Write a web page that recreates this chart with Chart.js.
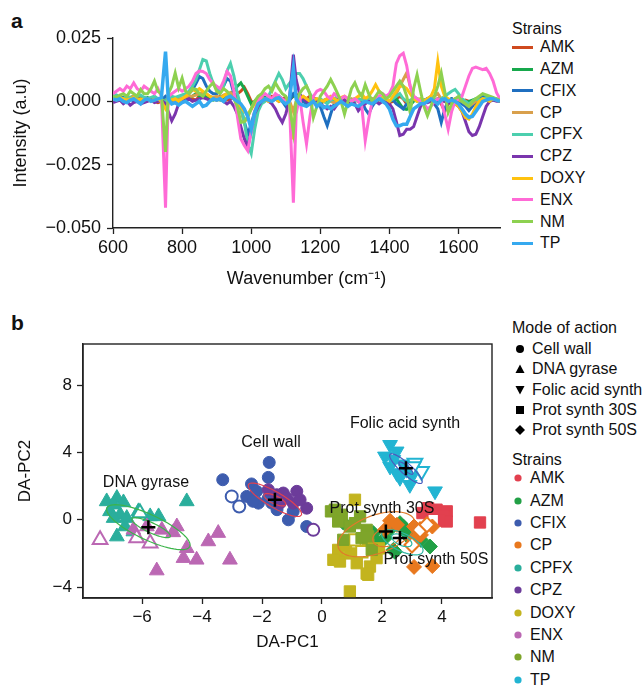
<!DOCTYPE html>
<html>
<head>
<meta charset="utf-8">
<script src="https://cdn.jsdelivr.net/npm/chart.js@4.4.0/dist/chart.umd.min.js"></script>
<style>
  body { margin: 0; background: #fff; font-family: Arial, "Liberation Sans", Helvetica, sans-serif; color: #111; }
  #page { position: relative; width: 644px; height: 687px; overflow: hidden; }
  .panel-label { position: absolute; font-weight: bold; font-size: 21px; line-height: 21px; }
  #chartA { position: absolute; left: 0; top: 0; }
  #chartB { position: absolute; left: 0; top: 300px; }
  .legend { position: absolute; left: 512px; font-size: 16px; }
  .legend .ttl { position: absolute; left: 0; white-space: nowrap; height: 16px; line-height: 16px; }
  .legend .rows { position: absolute; left: 0; }
  .legend .row { white-space: nowrap; display: flex; align-items: center; }
  .swatch { display: inline-block; width: 21px; height: 3px; margin-right: 7px; }
  .mk { display: inline-block; width: 16px; height: 12px; margin-right: 4px; }
  .dot { display: inline-block; width: 12px; height: 10px; margin-right: 6px; }
</style>
</head>
<body>
<div id="page">
  <div class="panel-label" style="left:11px; top:10px;">a</div>
  <div class="panel-label" style="left:11px; top:312px;">b</div>
  <canvas id="chartA" width="510" height="300"></canvas>
  <canvas id="chartB" width="510" height="387"></canvas>
  <div class="legend" id="legendA"></div>
  <div class="legend" id="legendB"></div>
</div>
<script>
// ---------- panel a: spectra ----------
const strainNames = ['AMK', 'AZM', 'CFIX', 'CP', 'CPFX', 'CPZ', 'DOXY', 'ENX', 'NM', 'TP'];
const lineColors = ['#cf4a1f', '#17a84c', '#1f6fc0', '#d9a04c', '#4ccfae', '#7a35ad', '#ffc20f', '#ff6ad6', '#8dd150', '#35a9ef'];

const wavenumbers = [
  600, 610, 620, 630, 640, 650, 660, 670, 680, 690,
  700, 710, 720, 730, 740, 752, 760, 770, 780, 790,
  800, 810, 820, 830, 840, 850, 860, 870, 880, 890,
  900, 910, 920, 930, 940, 950, 960, 970, 980, 990,
  1000, 1010, 1020, 1030, 1040, 1050, 1060, 1070, 1080, 1090,
  1100, 1110, 1122, 1130, 1140, 1150, 1160, 1170, 1180, 1190,
  1200, 1210, 1220, 1230, 1240, 1250, 1260, 1270, 1280, 1290,
  1300, 1310, 1320, 1330, 1340, 1350, 1360, 1370, 1380, 1390,
  1400, 1410, 1420, 1430, 1440, 1450, 1460, 1470, 1480, 1490,
  1500, 1510, 1520, 1530, 1540, 1550, 1560, 1570, 1580, 1590,
  1600, 1610, 1620, 1630, 1640, 1650, 1660, 1670, 1680, 1690,
  1700, 1710, 1720
];

const amkSpec = [
  0.0015, 0.002, 0.001, 0.0005, 0.0015, 0.001, 0.0005, 0.0015, 0.002, 0.001,
  0.0005, 0.001, 0, -0.0005, 0, -0.001, 0.0005, 0.001, 0, 0.0005,
  0.001, 0.0015, 0.002, 0.001, 0.0005, 0.002, 0.003, 0.002, 0.001, 0.0015,
  0.001, 0.002, 0.0015, 0.0005, 0.001, 0.002, 0.003, 0.004, 0.0055, 0.003,
  0, -0.001, 0.001, 0.002, 0.0005, 0.001, 0.002, 0.001, 0, 0.001,
  0.0015, 0.0005, 0.002, 0.003, 0.001, 0, 0.001, 0.002, 0.0015, 0.0005,
  -0.001, 0, 0.001, 0.0005, 0, 0.001, -0.0005, 0, 0.001, 0.0005,
  0, 0.001, -0.0005, 0, 0.0015, 0.001, 0, 0.0005, 0.001, 0,
  -0.0005, 0, 0.001, 0.002, 0.001, -0.001, 0, 0.001, 0.0005, 0,
  0.0005, 0.001, 0, 0.0005, 0.001, -0.001, -0.004, -0.001, 0.0005, 0,
  -0.0005, 0, 0.0005, 0, -0.0005, -0.001, 0, 0.0005, 0.001, 0.0005,
  0.001, 0.0005, 0
];
const azmSpec = [
  0.001, 0.0015, 0.002, 0.001, 0.0005, 0.0015, 0.002, 0.001, 0.0005, 0.001,
  0.0015, 0.001, 0.0005, 0.001, 0, 0.0005, 0.001, 0, 0.0005, 0.001,
  0.0005, 0.001, 0.0015, 0.002, 0.003, 0.002, 0.0015, 0.002, 0.001, 0.0005,
  0.001, 0.0005, 0.0015, 0.002, 0.003, 0.004, 0.006, 0.0073, 0.005, 0.002,
  -0.001, 0, 0.001, 0.002, 0.0015, 0.001, 0.0005, 0.001, 0.002, 0.001,
  0, 0.001, 0.002, 0.0025, 0.0015, 0.0005, 0, 0.001, 0.0005, 0,
  -0.0005, 0, 0.0005, 0.001, 0, -0.0005, 0.0005, 0.001, 0, 0.0005,
  0.001, 0, -0.0005, 0.0005, 0.001, 0, 0.0005, 0.001, 0.0005, 0,
  0, 0.0005, 0.001, -0.001, -0.003, -0.0032, -0.0015, 0, 0.001, 0.0005,
  0, 0.001, 0.0005, 0, 0.001, 0.0005, 0, 0.0005, 0.001, 0,
  0.0005, 0, -0.0005, 0, 0.0005, 0.001, 0.0005, 0, 0.001, 0.0015,
  0.001, 0.0005, 0
];
const cfixSpec = [
  0.001, 0.0005, 0.001, 0.0015, 0.0005, 0.001, 0, 0.0005, 0.001, 0.0015,
  0.001, 0.0005, 0.001, 0, 0.0005, 0.002, 0.001, 0, -0.0005, 0.0005,
  0.001, 0.002, 0.003, 0.0045, 0.007, 0.0098, 0.009, 0.006, 0.004, 0.003,
  0.003, 0.004, 0.006, 0.009, 0.008, 0.003, 0, -0.003, -0.008, -0.013,
  -0.009, -0.004, -0.001, 0, 0.001, 0.0005, 0, 0.001, 0.002, 0,
  -0.002, 0, 0.003, 0.002, 0.001, 0, -0.001, 0, 0.001, 0,
  -0.002, -0.006, -0.0096, -0.005, -0.001, 0, 0.001, 0, -0.001, 0,
  0, 0.001, 0, -0.003, -0.005, -0.002, 0, 0.001, 0.0005, 0,
  0, 0.0005, -0.001, -0.002, -0.003, -0.001, 0, 0.001, 0, 0.0005,
  0, 0.001, 0.0005, -0.001, -0.003, -0.0083, -0.003, 0, 0.001, 0.0005,
  0, -0.001, -0.002, -0.0037, -0.002, 0, 0.001, 0.002, 0.002, 0.0015,
  0.001, 0.0005, 0
];
const cpSpec = [
  0.001, 0.0015, 0.001, 0.0005, 0.001, 0.0015, 0.002, 0.001, 0.0005, 0.001,
  0.001, 0.0005, 0.001, 0, 0.0005, 0, 0.0005, 0.001, 0, 0.001,
  0.001, 0.0015, 0.002, 0.002, 0.0025, 0.003, 0.0035, 0.003, 0.002, 0.0015,
  0.002, 0.0015, 0.0025, 0.003, 0.0035, 0.002, 0, -0.003, -0.0083, -0.006,
  -0.003, 0, 0.001, 0.0015, 0.001, 0.0005, 0.001, 0.002, 0.001, 0.0005,
  0, 0.0005, -0.004, 0, 0.001, 0.002, 0.001, 0, 0.0005, 0.001,
  0, 0.0005, 0.001, 0, -0.0005, 0, 0.001, 0.0005, 0, 0.001,
  0.0005, 0, 0.001, 0.0005, -0.0005, 0, 0.001, 0.0015, 0.002, 0.001,
  0, 0.001, 0.003, 0.006, 0.0086, 0.0112, 0.006, 0.002, 0.001, 0,
  -0.0005, 0, 0.001, 0.002, 0.003, 0.001, 0, 0.0005, 0, 0.001,
  0.0005, 0, -0.001, -0.002, -0.001, 0, 0.0005, 0.001, 0.0005, 0,
  0.001, 0.0005, 0
];
const cpfxSpec = [
  0.002, 0.0025, 0.0015, 0.001, 0.002, 0.0015, 0.001, 0.002, 0.0025, 0.0015,
  0.001, 0.0015, 0.002, 0.001, 0.0005, 0, 0.001, 0.002, 0.0015, 0.002,
  0.0025, 0.003, 0.004, 0.006, 0.0086, 0.0125, 0.0165, 0.016, 0.011, 0.007,
  0.005, 0.004, 0.006, 0.012, 0.015, 0.01, 0.003, -0.002, -0.008, -0.017,
  -0.0206, -0.011, -0.004, -0.001, 0, 0.002, 0.005, 0.008, 0.011, 0.0086,
  0.005, 0.007, 0.009, 0.011, 0.011, 0.009, 0.006, 0.003, 0.001, 0,
  0.001, 0, -0.001, 0.0005, 0.001, 0.002, 0.001, 0, 0.001, 0.0005,
  0, 0.001, 0.0005, 0, 0.001, 0.0005, 0.001, 0.002, 0.001, 0.0005,
  0, 0.001, 0.002, 0.003, 0.001, 0, 0.0005, 0.001, 0, 0.001,
  0.0005, 0.001, 0.002, 0.001, 0, 0.001, 0.002, 0.003, 0.004, 0.0047,
  0.003, 0.001, 0, -0.001, 0, 0.001, 0.0005, 0.001, 0.0015, 0.001,
  0.0005, 0.001, 0
];
const cpzSpec = [
  -0.0005, 0, 0.0005, -0.001, 0, -0.0015, -0.0005, 0, -0.001, -0.0005,
  0, 0.0005, -0.0005, 0, 0.0005, -0.001, -0.004, -0.0077, -0.005, -0.001,
  0, 0.0005, 0.001, 0, 0.0005, 0.001, 0.0015, 0.001, 0.0005, 0.001,
  0.0005, 0.001, 0, -0.001, 0, -0.002, -0.005, -0.01, -0.0148, -0.018,
  -0.012, -0.005, -0.002, 0, 0.001, 0, -0.001, -0.003, -0.006, -0.0083,
  -0.005, 0, 0.0184, 0.0086, 0.003, 0.001, 0, -0.001, 0, 0.0005,
  -0.001, -0.002, -0.003, -0.002, -0.003, -0.001, 0, 0.0005, -0.001, 0,
  -0.001, -0.0037, -0.002, -0.001, 0, -0.0005, 0, -0.001, 0, -0.0005,
  -0.001, -0.003, -0.008, -0.0135, -0.013, -0.011, -0.011, -0.01, -0.006, -0.002,
  0, -0.0005, 0, -0.001, 0, 0.0005, 0, -0.001, 0, -0.001,
  -0.002, -0.004, -0.008, -0.012, -0.0135, -0.013, -0.01, -0.006, -0.002, 0,
  0.0005, 0, 0
];
const doxySpec = [
  0.001, 0.0005, 0.0015, 0.001, 0.0005, 0.001, 0.0015, 0.0005, 0.001, 0.0005,
  0.001, 0, 0.0005, 0.001, 0, -0.003, -0.001, 0.0005, 0.001, 0,
  0.001, 0.002, 0.003, 0.0047, 0.004, 0.005, 0.004, 0.003, 0.002, 0.001,
  0.0005, 0.001, 0.002, 0.003, 0.002, 0.001, 0, -0.002, -0.004, -0.005,
  -0.003, -0.001, 0, 0.0005, 0.001, 0, 0.0005, 0.001, 0, 0.0005,
  0, 0.001, -0.015, -0.002, 0.001, 0.002, 0.001, 0, 0.0005, 0.001,
  0.0005, 0, 0.001, 0.002, 0.001, 0, 0.0015, 0.002, 0.001, 0,
  0.001, 0.002, 0.003, 0.001, 0.002, 0.004, 0.0066, 0.004, 0.002, 0.001,
  0, 0.002, 0.004, 0.006, 0.006, 0.005, 0.003, 0.001, 0, 0.001,
  0, 0.001, 0.002, 0.005, 0.0157, 0.006, 0.002, 0.001, 0, -0.001,
  -0.002, -0.004, -0.0064, -0.007, -0.005, -0.002, 0, 0.001, 0.0005, 0,
  0.001, 0.0005, 0
];
const enxSpec = [
  0.003, 0.004, 0.005, 0.004, 0.006, 0.005, 0.0073, 0.005, 0.004, 0.006,
  0.005, 0.004, 0.003, 0.005, 0.002, -0.042, 0.002, 0.003, 0.004, 0.005,
  0.004, 0.005, 0.006, 0.008, 0.011, 0.012, 0.0118, 0.011, 0.0086, 0.007,
  0.006, 0.005, 0.008, 0.0118, 0.01, 0.004, -0.006, -0.0148, -0.0174, -0.0195,
  -0.012, -0.004, 0, 0.002, 0.003, 0.002, 0.001, 0.003, 0.002, 0.001,
  0, 0.001, -0.04, -0.005, 0.002, -0.008, -0.0168, -0.006, 0.002, 0.004,
  0.0047, 0.004, 0.002, 0.001, 0.003, 0.002, 0.001, 0.002, 0.001, 0,
  0.001, 0, -0.002, -0.0155, -0.007, 0, 0.001, 0.002, 0.003, 0.002,
  0.003, 0.006, 0.015, 0.018, 0.019, 0.014, 0.006, 0.002, 0.001, 0,
  -0.001, -0.003, -0.002, 0, 0.001, 0, -0.005, -0.011, -0.004, 0,
  0.001, 0.002, 0.006, 0.01, 0.013, 0.0135, 0.013, 0.0125, 0.013, 0.011,
  0.008, 0.0034, 0.001
];
const nmSpec = [
  0.002, 0.0015, 0.0025, 0.003, 0.002, 0.004, 0.003, 0.002, 0.0047, 0.003,
  0.003, 0.005, 0.008, 0.004, 0.003, -0.02, 0.003, 0.006, 0.0112, 0.0053,
  0.0092, 0.004, 0.003, 0.005, 0.0047, 0.003, 0.002, 0.004, 0.006, 0.0073,
  0.004, 0.003, 0.005, 0.004, 0.002, 0.001, -0.002, -0.0083, -0.008, -0.006,
  -0.003, 0, 0.002, 0.003, 0.005, 0.006, 0.004, 0.0073, 0.005, 0.003,
  0.002, -0.001, -0.012, 0, 0.003, 0.005, 0.006, 0.003, -0.0063, -0.002,
  0.002, 0.004, 0.006, 0.0086, 0.006, 0.003, 0, -0.005, 0, 0.005,
  0.0073, 0.004, 0.002, 0.0066, 0.003, 0, 0.002, 0.004, 0.003, 0.001,
  0.002, 0.004, 0.006, 0.008, 0.006, 0.002, -0.0044, 0.005, 0.0105, 0.004,
  -0.002, -0.0057, -0.002, 0.002, 0.006, 0.0112, 0.004, -0.0044, -0.001, 0.001,
  0.002, 0, -0.001, -0.002, 0, 0.001, 0.002, 0.003, 0.0025, 0.002,
  0.0015, 0.001, 0.0005
];
const tpSpec = [
  0.001, 0.0005, 0.001, 0, -0.0005, 0.0005, 0.001, 0, -0.001, 0.0005,
  0.001, 0, 0.0005, 0.001, 0.0015, 0.0196, 0.001, -0.001, -0.0005, -0.0015,
  -0.0005, 0, -0.001, -0.002, -0.001, 0, -0.002, -0.0015, 0, 0.001,
  0.0005, 0.001, 0, 0.0015, 0.002, 0.001, 0, -0.001, -0.003, -0.006,
  -0.011, -0.0044, -0.001, 0, 0.001, 0.0005, 0, 0.001, 0.0015, 0,
  -0.001, 0, 0.013, 0.001, -0.001, -0.0015, -0.002, -0.001, 0, -0.002,
  -0.001, -0.0025, -0.002, -0.003, -0.002, -0.001, 0, -0.001, -0.002, -0.001,
  -0.0015, -0.002, -0.001, 0, -0.0005, -0.001, 0, 0.001, 0, -0.001,
  -0.003, -0.007, -0.0096, -0.0096, -0.009, -0.009, -0.006, -0.003, -0.002, -0.001,
  -0.001, 0, 0.001, 0, -0.001, 0.0005, 0.001, 0, 0.0005, 0,
  -0.001, -0.003, -0.005, -0.0063, -0.006, -0.004, -0.002, 0, 0.0005, 0.001,
  0.001, 0.0005, 0
];
const spectra = [amkSpec, azmSpec, cfixSpec, cpSpec, cpfxSpec, cpzSpec, doxySpec, enxSpec, nmSpec, tpSpec];
const intensityTicks = [-0.05, -0.025, 0, 0.025];

// ---------- panel b: discriminant analysis ----------
const modeNames = ['Cell wall', 'DNA gyrase', 'Folic acid synth', 'Prot synth 30S', 'Prot synth 50S'];
const pointColors = ['#e2404f', '#22a046', '#3d5cae', '#e8781e', '#2aae9c', '#6c3c9a', '#c3b41f', '#bb68b3', '#7ea52a', '#22b4d2'];

const amkFilled = [[3.54, 0.69], [3.82, 0.6], [4.16, 0.5], [4.05, 0.2], [4.16, -0.1], [3.6, 0.2], [5.27, -0.16], [3.9, -0.05], [3.35, 0.4]];
const amkOpen = [[3.71, 0.0]];
const azmFilled = [[0.71, -0.16], [2.6, -0.2], [2.82, -0.79], [2.38, -1.79], [3.6, -1.59], [1.71, -0.79], [2.1, -1.09], [2.93, -1.1], [2.43, -1.9], [2.71, -0.4], [1.82, -1.29], [3.3, -1.2], [2.3, -0.5]];
const cfixFilled = [[-3.31, 2.38], [-1.76, 3.41], [-1.79, 2.52], [-2.35, 2.13], [-2.51, 1.39], [-2.18, 1.69], [-2.12, 0.99], [-1.79, 1.29], [-0.96, 0.5], [-1.12, 0.0], [-0.51, -0.4], [-1.68, 1.0], [-2.3, 1.1], [-1.5, 0.6]];
const cfixOpen = [[-3.01, 1.39], [-2.76, 0.79]];
const cpFilled = [[2.27, -0.06], [2.1, -0.6], [3.07, -0.4], [3.68, -0.4], [3.07, -1.19], [3.68, -2.75], [3.07, -2.8], [2.5, -0.3], [3.3, -0.9]];
const cpOpen = [[3.27, -0.6], [3.0, -1.5], [3.5, -0.3]];
const cpfxFilled = [[-7.18, 1.09], [-6.84, 1.29], [-6.62, 1.03], [-7.07, 0.5], [-6.73, 0.3], [-6.95, 0.1], [-6.12, 0.5], [-5.73, 0.2], [-5.45, 0.2], [-6.57, -0.4], [-6.84, -1.0], [-6.29, -0.7], [-4.51, 1.09], [-6.51, 0.1], [-6.95, 0.9]];
const cpfxOpen = [[-6.07, 0.4]];
const cpzFilled = [[-1.79, 1.79], [-1.29, 1.59], [-0.84, 1.69], [-1.4, 0.99], [-0.96, 0.99], [-0.51, 0.69], [-1.18, 1.29], [-1.51, 1.49], [-0.73, 1.19]];
const cpzOpen = [[-0.29, -0.6]];
const doxyFilled = [[1.1, 1.19], [0.6, -2.48], [0.93, -2.0], [1.16, -2.58], [1.6, -2.78], [1.54, -3.27], [0.93, -4.26], [0.54, -1.79], [1.82, -2.28], [1.54, -1.49], [0.38, -2.38], [1.49, -3.2], [1.9, -1.7], [0.8, -1.5]];
const doxyOpen = [[1.1, -1.19], [1.33, -1.9]];
const enxFilled = [[-5.34, -0.6], [-4.84, -0.4], [-4.96, -0.75], [-4.51, -1.69], [-4.62, -2.28], [-4.18, -2.38], [-3.79, -1.29], [-3.46, -0.79], [-3.07, -2.38], [-5.51, -3.02], [-5.84, -0.4], [-6.29, -0.6]];
const enxOpen = [[-7.4, -1.19], [-6.18, -1.09], [-5.73, -1.39]];
const nmFilled = [[0.43, 0.6], [0.66, 0.3], [1.27, 0.2], [0.93, -0.4], [1.49, -0.6], [0.71, -1.19], [1.66, -1.79], [1.32, -1.09], [0.54, -0.1], [1.1, -0.2], [1.54, -0.99], [0.3, 0.5]];
const tpFilled = [[2.27, 4.46], [2.49, 4.07], [2.1, 3.77], [2.38, 3.57], [2.49, 2.78], [2.93, 2.08], [3.77, 1.7], [2.82, 2.98], [2.27, 3.17], [2.7, 3.3], [3.0, 2.6], [2.6, 2.5]];
const tpOpen = [[3.1, 3.37], [3.32, 2.88], [3.04, 3.17]];

// centroids (black crosses), in modeNames order
const centroidPts = [[-1.57, 1.19], [-5.79, -0.44], [2.8, 3.07], [2.13, -0.69], [2.6, -1.09]];
// confidence ellipses: centre, semi-axis vectors (data units), and group
const ellipseCentres = [[-1.57, 1.19], [-1.57, 1.19], [-5.79, -0.44], [-5.7, -0.47], [2.8, 3.04], [2.8, 3.07], [1.82, -0.86], [2.15, -1.04], [2.68, -1.34], [2.66, -1.22]];
const ellipseMajor = [[0.88, -0.91], [0.36, -0.30], [1.38, -1.15], [0.64, -0.53], [0.53, -0.85], [0.23, -0.35], [1.27, 0.82], [0.45, 0.21], [0.68, -0.57], [0.33, -0.27]];
const ellipseMinor = [[-0.13, -0.40], [-0.056, -0.215], [-0.18, -0.68], [-0.07, -0.27], [-0.12, -0.24], [-0.053, -0.113], [0.22, -1.06], [0.077, -0.52], [-0.12, -0.48], [-0.07, -0.27]];
const ellipseGroup = [0, 0, 1, 1, 2, 2, 3, 3, 4, 4];
const ellipseColors = ['#e2404f', '#3cb44a', '#4a5bbd', '#e07a2a', '#2cb5a3'];
const modeLabelPos = [[-1.7, 4.58], [-5.87, 2.2], [2.77, 5.7], [2.0, 0.65], [3.8, -2.38]];

// which marker each strain uses, and which point lists
const scatterGroups = [
  { strain: 0, shape: 'rect', pts: amkFilled, open: false },
  { strain: 0, shape: 'rect', pts: amkOpen, open: true },
  { strain: 1, shape: 'rectRot', pts: azmFilled, open: false },
  { strain: 2, shape: 'circle', pts: cfixFilled, open: false },
  { strain: 2, shape: 'circle', pts: cfixOpen, open: true },
  { strain: 3, shape: 'rectRot', pts: cpFilled, open: false },
  { strain: 3, shape: 'rectRot', pts: cpOpen, open: true },
  { strain: 4, shape: 'triangle', pts: cpfxFilled, open: false },
  { strain: 4, shape: 'triangle', pts: cpfxOpen, open: true },
  { strain: 5, shape: 'circle', pts: cpzFilled, open: false },
  { strain: 5, shape: 'circle', pts: cpzOpen, open: true },
  { strain: 6, shape: 'rect', pts: doxyFilled, open: false },
  { strain: 6, shape: 'rect', pts: doxyOpen, open: true },
  { strain: 7, shape: 'triangle', pts: enxFilled, open: false },
  { strain: 7, shape: 'triangle', pts: enxOpen, open: true },
  { strain: 8, shape: 'rect', pts: nmFilled, open: false },
  { strain: 9, shape: 'down', pts: tpFilled, open: false },
  { strain: 9, shape: 'down', pts: tpOpen, open: true }
];

Chart.defaults.font.family = 'Arial, "Liberation Sans", Helvetica, sans-serif';
Chart.defaults.color = '#111';

function withMinus(v, digits) {
  const s = Math.abs(v) < 1e-9 ? (0).toFixed(digits) : v.toFixed(digits);
  return s.replace('-', '\u2212');
}

const axisLine = { display: true, color: '#222', width: 1.4 };
const tickMarks = { display: true, drawOnChartArea: false, drawTicks: true, tickLength: 6, tickColor: '#222', tickWidth: 1.3 };

// ---------- chart a ----------
new Chart(document.getElementById('chartA'), {
  type: 'line',
  data: {
    datasets: strainNames.map((name, i) => ({
      label: name,
      data: wavenumbers.map((w, j) => ({ x: w, y: spectra[i][j] })),
      borderColor: lineColors[i],
      borderWidth: i === 9 ? 3.5 : 3,
      pointRadius: 0,
      tension: 0,
      order: strainNames.length - i
    }))
  },
  options: {
    responsive: false,
    animation: false,
    layout: { padding: { left: 0, right: 10, top: 38, bottom: 0 } },
    plugins: { legend: { display: false }, tooltip: { enabled: false } },
    scales: {
      x: {
        type: 'linear', min: 600, max: 1720,
        border: axisLine, grid: tickMarks,
        ticks: { stepSize: 200, includeBounds: false, font: { size: 18 }, padding: 3, maxRotation: 0, callback: v => String(v) },
        title: { display: true, text: 'Wavenumber (cm\u207B\u00B9)', font: { size: 18 }, padding: { bottom: 10 } },
        afterFit: s => { s.height = 72; }
      },
      y: {
        min: -0.05, max: 0.025,
        afterBuildTicks: s => { s.ticks = intensityTicks.map(v => ({ value: v })); },
        border: axisLine, grid: tickMarks,
        ticks: { font: { size: 18 }, padding: 6, callback: v => withMinus(v, 3) },
        title: { display: true, text: 'Intensity (a.u)', font: { size: 18 }, padding: { top: 10 } },
        afterFit: s => { s.width = 113; }
      }
    }
  }
});

// ---------- chart b ----------
const ellipsePlugin = {
  id: 'ellipses',
  beforeDatasetDraw(chart, args) {
    if (args.index !== chart.data.datasets.length - 1) return;
    const { ctx, scales: { x, y } } = chart;
    ctx.save();
    ctx.lineWidth = 1.2;
    ellipseCentres.forEach((c, k) => {
      ctx.strokeStyle = ellipseColors[ellipseGroup[k]];
      ctx.beginPath();
      for (let s = 0; s <= 72; s++) {
        const t = (s / 72) * Math.PI * 2;
        const dx = c[0] + Math.cos(t) * ellipseMajor[k][0] + Math.sin(t) * ellipseMinor[k][0];
        const dy = c[1] + Math.cos(t) * ellipseMajor[k][1] + Math.sin(t) * ellipseMinor[k][1];
        const px = x.getPixelForValue(dx), py = y.getPixelForValue(dy);
        if (s === 0) ctx.moveTo(px, py); else ctx.lineTo(px, py);
      }
      ctx.stroke();
    });
    ctx.restore();
  },
  afterDatasetsDraw(chart) {
    const { ctx, scales: { x, y } } = chart;
    ctx.save();
    ctx.fillStyle = '#111';
    ctx.font = '16px Arial, "Liberation Sans", sans-serif';
    ctx.textAlign = 'center';
    ctx.textBaseline = 'middle';
    modeNames.forEach((m, k) => {
      ctx.fillText(m, x.getPixelForValue(modeLabelPos[k][0]), y.getPixelForValue(modeLabelPos[k][1]));
    });
    ctx.restore();
  },
  afterDraw(chart) {
    const { ctx, chartArea: a } = chart;
    ctx.save();
    ctx.strokeStyle = '#222';
    ctx.lineWidth = 1.4;
    ctx.strokeRect(a.left, a.top, a.right - a.left, a.bottom - a.top);
    ctx.restore();
  }
};

const radiusFor = { circle: 6, triangle: 8.5, down: 8.5, rect: 8, rectRot: 7.5 };
const scatterSets = scatterGroups.map((g, i) => ({
  label: strainNames[g.strain],
  data: g.pts.map(p => ({ x: p[0], y: p[1] })),
  pointStyle: g.shape === 'down' ? 'triangle' : g.shape,
  rotation: g.shape === 'down' ? 180 : 0,
  pointRadius: radiusFor[g.shape],
  backgroundColor: g.open ? '#ffffff' : pointColors[g.strain],
  borderColor: pointColors[g.strain],
  borderWidth: g.open ? 2 : 1,
  order: scatterGroups.length + 1 - i
}));
scatterSets.push({
  label: 'centroid',
  data: centroidPts.map(p => ({ x: p[0], y: p[1] })),
  pointStyle: 'cross',
  pointRadius: 7,
  borderColor: '#000',
  borderWidth: 2.5,
  order: 0
});

new Chart(document.getElementById('chartB'), {
  type: 'scatter',
  data: { datasets: scatterSets },
  options: {
    responsive: false,
    animation: false,
    layout: { padding: { left: 0, right: 18, top: 44, bottom: 29 } },
    plugins: { legend: { display: false }, tooltip: { enabled: false } },
    scales: {
      x: {
        min: -7.97, max: 5.67,
        border: axisLine, grid: tickMarks,
        ticks: { stepSize: 2, includeBounds: false, font: { size: 17 }, padding: 3, callback: v => withMinus(v, 0) },
        title: { display: true, text: 'DA-PC1', font: { size: 17 }, padding: { bottom: 5 } },
        afterFit: s => { s.height = 60; }
      },
      y: {
        min: -4.65, max: 10.45,
        border: axisLine, grid: tickMarks,
        ticks: { stepSize: 4, includeBounds: false, font: { size: 17 }, padding: 5, callback: v => withMinus(v, 0) },
        title: { display: true, text: 'DA-PC2', font: { size: 17 }, padding: { top: 15 } },
        afterFit: s => { s.width = 83; }
      }
    }
  },
  plugins: [ellipsePlugin]
});

// ---------- legends ----------
function buildLegendA() {
  const box = document.getElementById('legendA');
  box.style.top = '0px';
  box.innerHTML = '<div class="ttl" style="top:21px">Strains</div>';
  const rows = document.createElement('div');
  rows.className = 'rows';
  rows.style.top = '36.4px';
  strainNames.forEach((n, i) => {
    const r = document.createElement('div');
    r.className = 'row';
    r.style.height = '21.8px';
    r.innerHTML = `<span class="swatch" style="background:${lineColors[i]}"></span><span>${n}</span>`;
    rows.appendChild(r);
  });
  box.appendChild(rows);
}

const modeShapesSvg = [
  '<circle cx="8" cy="6" r="4" fill="#000"/>',
  '<polygon points="8,1.5 12.5,10 3.5,10" fill="#000"/>',
  '<polygon points="3.5,2 12.5,2 8,10.5" fill="#000"/>',
  '<rect x="4" y="2" width="8" height="8" fill="#000"/>',
  '<polygon points="8,1 13,6 8,11 3,6" fill="#000"/>'
];

function buildLegendB() {
  const box = document.getElementById('legendB');
  box.style.top = '0px';
  box.innerHTML = '<div class="ttl" style="top:320.3px">Mode of action</div><div class="ttl" style="top:452px">Strains</div>';
  const modes = document.createElement('div');
  modes.className = 'rows';
  modes.style.top = '339.2px';
  modeNames.forEach((m, i) => {
    const r = document.createElement('div');
    r.className = 'row';
    r.style.height = '20.2px';
    r.innerHTML = `<svg class="mk" viewBox="0 0 16 12">${modeShapesSvg[i]}</svg><span>${m}</span>`;
    modes.appendChild(r);
  });
  box.appendChild(modes);
  const strains = document.createElement('div');
  strains.className = 'rows';
  strains.style.top = '467.1px';
  strainNames.forEach((n, i) => {
    const r = document.createElement('div');
    r.className = 'row';
    r.style.height = '22.4px';
    r.innerHTML = `<svg class="dot" viewBox="0 0 12 10"><circle cx="6" cy="5" r="3.6" fill="${pointColors[i]}"/></svg><span>${n}</span>`;
    strains.appendChild(r);
  });
  box.appendChild(strains);
}

buildLegendA();
buildLegendB();
</script>
</body>
</html>
